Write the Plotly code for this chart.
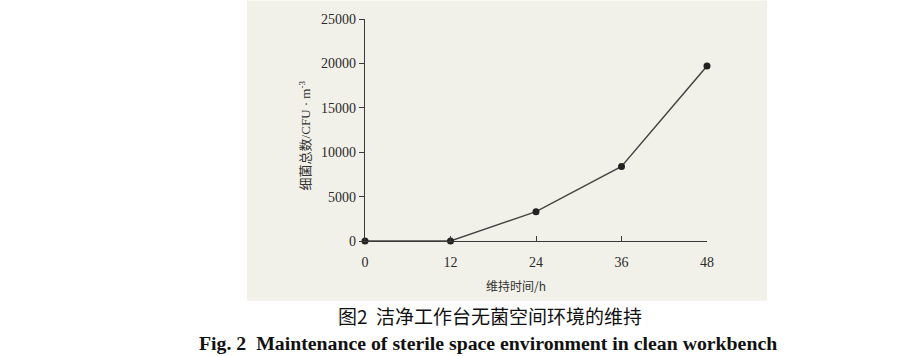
import plotly.graph_objects as go

hours = [0, 12, 24, 36, 48]
bacteria = [0, 0, 3300, 8400, 19700]
x_ticks = [0, 12, 24, 36, 48]
y_ticks = [0, 5000, 10000, 15000, 20000, 25000]
y_tick_text = ["0", "5000", "10000", "15000", "20000", "25000"]

W, H = 916, 356
L, R = 365, 707
T, B = 14, 241
ink = "#3a3a3a"
serif = "Liberation Serif, Times New Roman, serif"
cjk = "Noto Sans CJK SC"

fig = go.Figure()
fig.add_trace(go.Scatter(
    x=hours, y=bacteria, mode="lines+markers",
    line=dict(color="#444444", width=1.4),
    marker=dict(color="#222222", size=7),
    cliponaxis=False, showlegend=False,
))

def px_x(p):
    return (p - L) / (R - L)

def px_y(p):
    return (B - p) / (B - T)

fig.update_layout(
    width=W, height=H,
    margin=dict(l=L, r=W - R, t=T, b=H - B, pad=0),
    paper_bgcolor="white", plot_bgcolor="rgba(0,0,0,0)",
    shapes=[dict(type="rect", xref="paper", yref="paper",
                 x0=px_x(247), x1=px_x(767), y0=px_y(302), y1=px_y(-5),
                 fillcolor="#f2f1e9", line=dict(width=0), layer="below")],
    xaxis=dict(range=[0, 48], tickvals=x_ticks, ticks="inside", ticklen=5,
               tickcolor=ink, tickwidth=1.3, showline=True, linecolor=ink,
               linewidth=1.4, showgrid=False, zeroline=False,
               tickfont=dict(family=serif, size=14, color="#2a2a2a"),
               ticklabelstandoff=8),
    yaxis=dict(range=[0, 25000], tickvals=y_ticks, ticktext=y_tick_text,
               ticks="outside", ticklen=5,
               tickcolor=ink, tickwidth=1.3, showline=True, linecolor=ink,
               linewidth=1.4, showgrid=False, zeroline=False,
               tickfont=dict(family=serif, size=14, color="#2a2a2a")),
    annotations=[
        dict(text="细菌总数/CFU · m<sup>-3</sup>", xref="paper", yref="paper",
             x=px_x(305), y=px_y(133), textangle=-90, showarrow=False,
             xanchor="center", yanchor="middle",
             font=dict(family=serif + ", " + cjk, size=13, color="#333")),
        dict(text="维持时间/h", xref="paper", yref="paper",
             x=px_x(516), y=px_y(286), showarrow=False,
             xanchor="center", yanchor="middle",
             font=dict(family=cjk, size=12, color="#333")),
        dict(text="图2\u00a0\u00a0洁净工作台无菌空间环境的维持", xref="paper", yref="paper",
             x=px_x(490), y=px_y(317), showarrow=False,
             xanchor="center", yanchor="middle",
             font=dict(family=cjk, size=19, color="#111")),
        dict(text="<b>Fig. 2\u00a0\u00a0Maintenance of sterile space environment in clean workbench</b>",
             xref="paper", yref="paper",
             x=px_x(488), y=px_y(345), showarrow=False,
             xanchor="center", yanchor="middle",
             font=dict(family=serif, size=19.8, color="#111")),
    ],
)

fig.write_html("out.html", config={"displayModeBar": False},
               post_script="document.body.style.margin='0';document.body.style.padding='0';")
